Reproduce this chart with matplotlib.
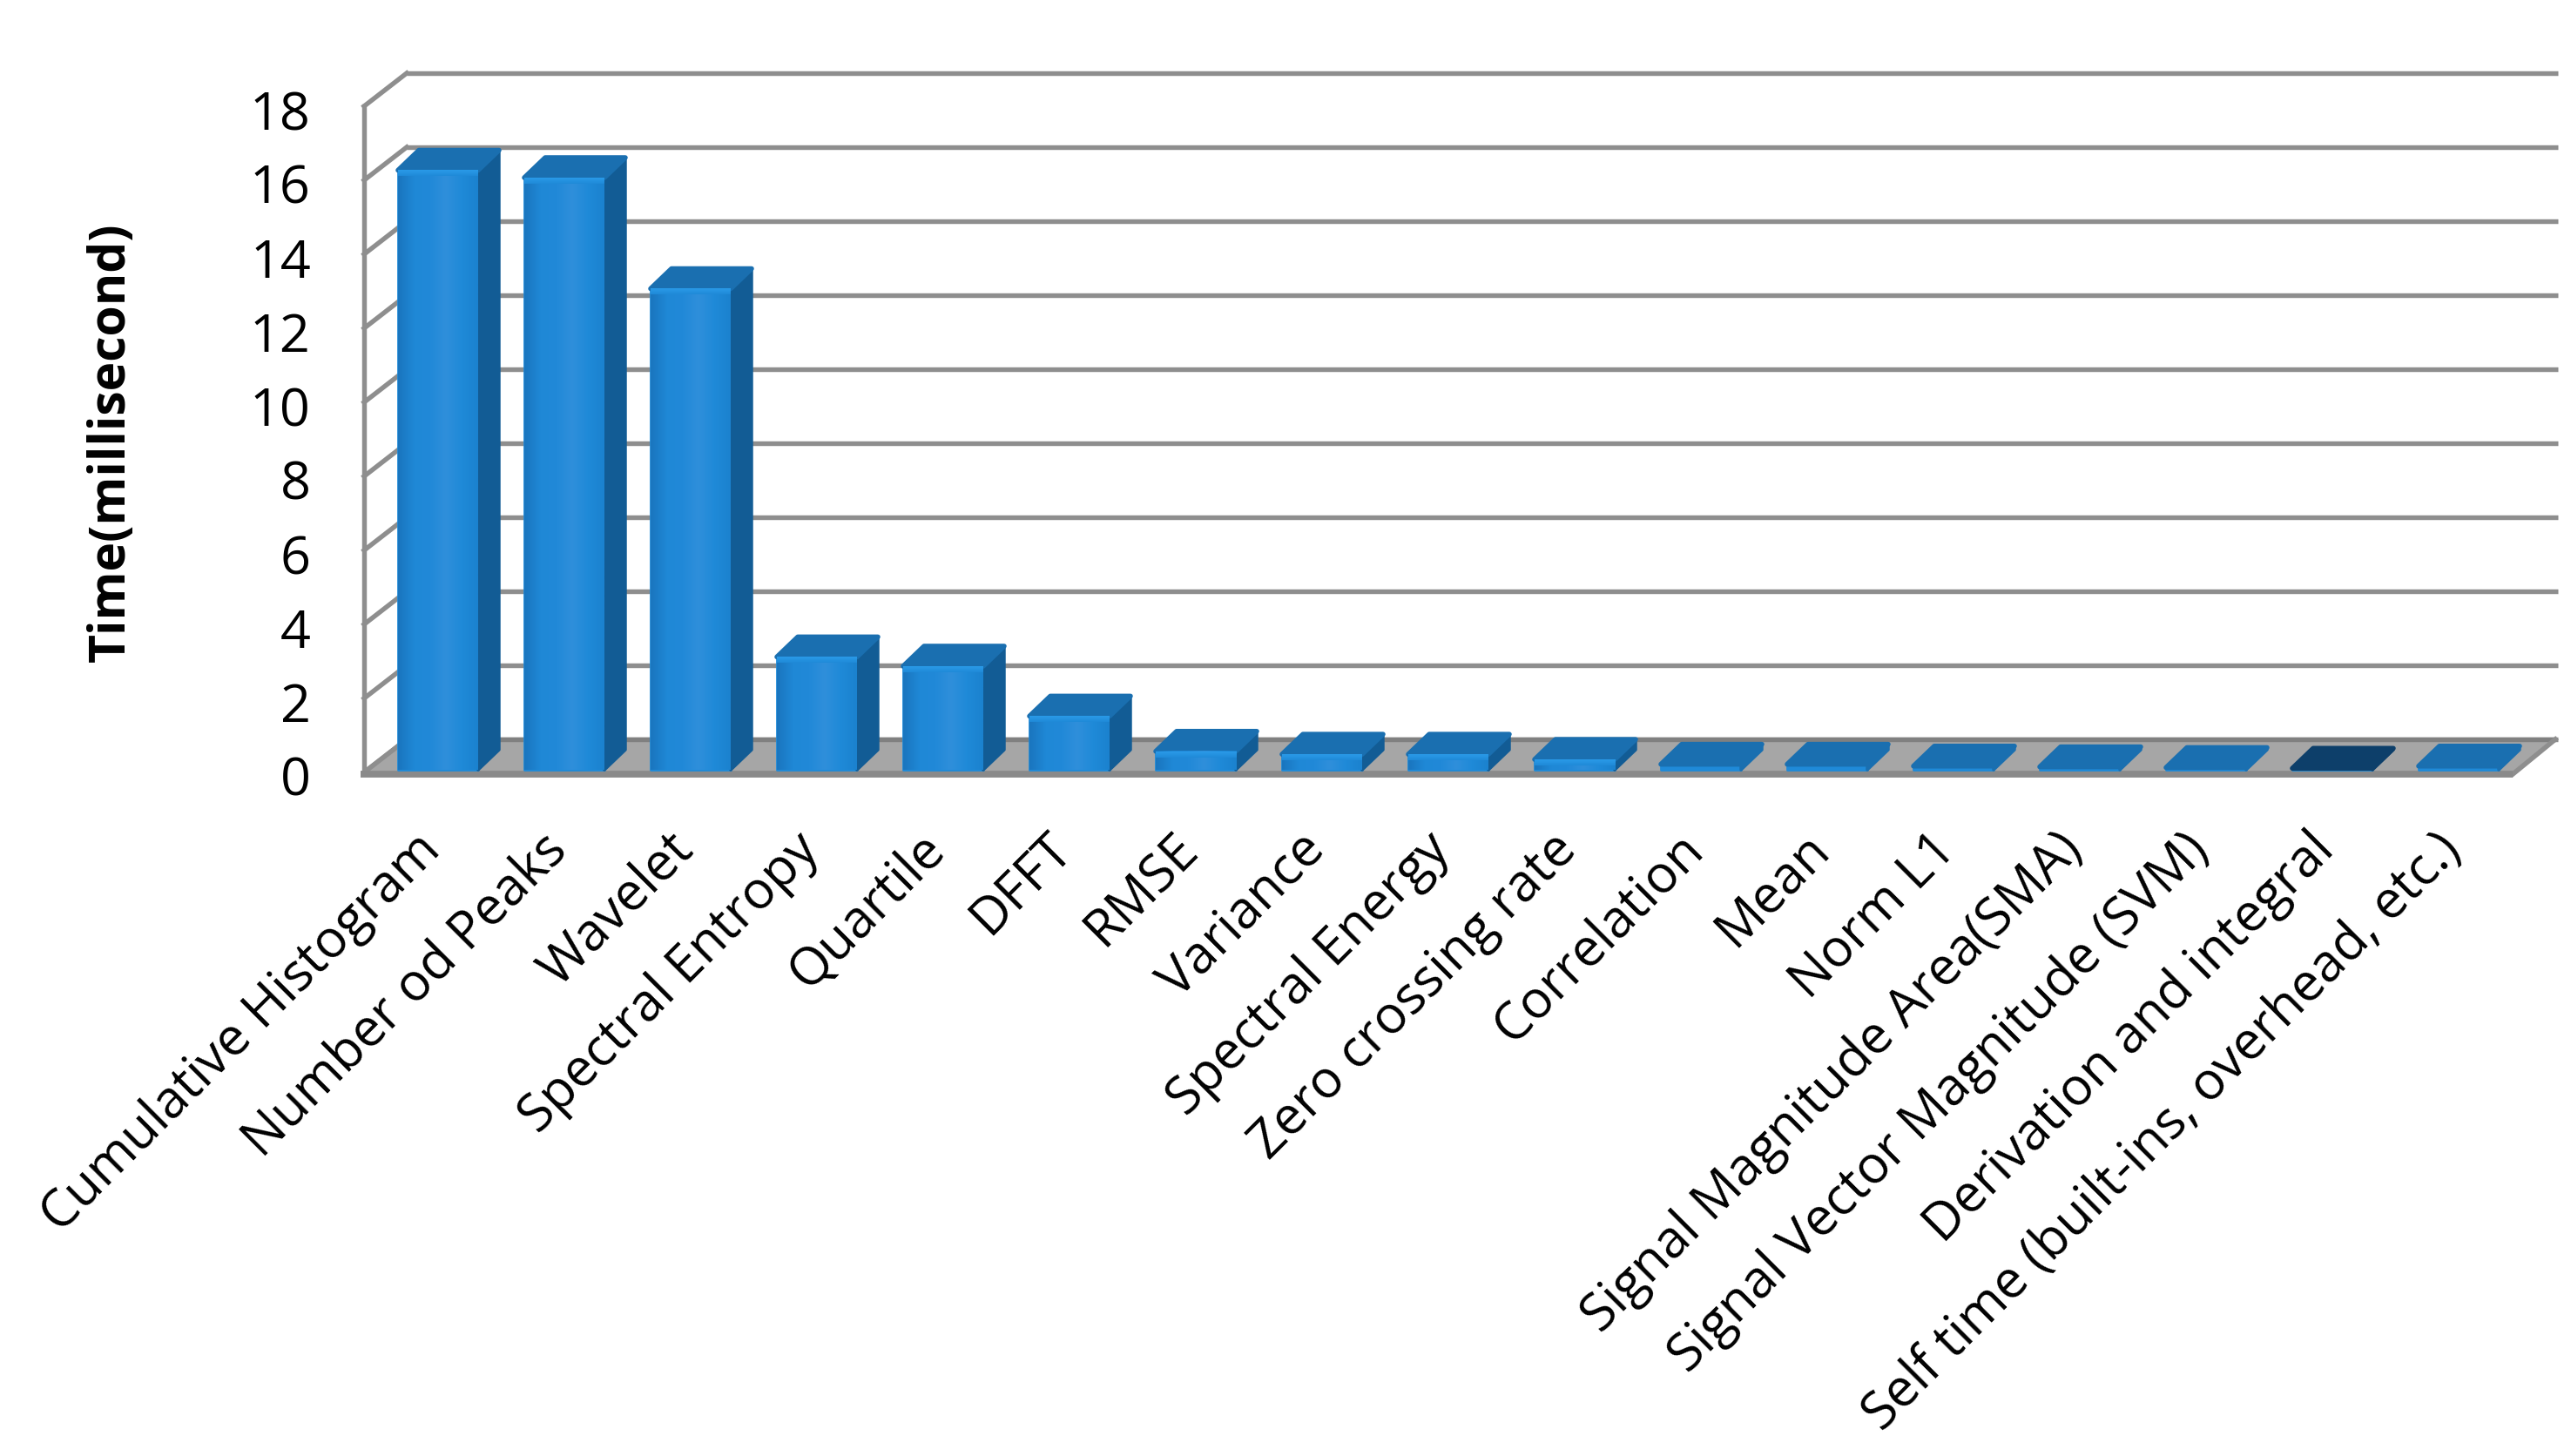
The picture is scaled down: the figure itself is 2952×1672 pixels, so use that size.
import numpy as np
import matplotlib
matplotlib.use("AGG")
import matplotlib.pyplot as plt
from matplotlib.colors import LinearSegmentedColormap
from matplotlib.patches import Polygon
from matplotlib.transforms import ScaledTranslation

categories = [
    "Cumulative Histogram", "Number od Peaks", "Wavelet", "Spectral Entropy",
    "Quartile", "DFFT", "RMSE", "Variance", "Spectral Energy",
    "Zero crossing rate", "Correlation", "Mean", "Norm L1",
    "Signal Magnitude Area(SMA)", "Signal Vector Magnitude (SVM)",
    "Derivation and integral", "Self time (built-ins, overhead, etc.)",
]
times = [16.2, 16.0, 13.0, 3.05, 2.8, 1.45, 0.5, 0.42, 0.42, 0.28,
         0.15, 0.15, 0.1, 0.08, 0.06, 0.04, 0.1]
y_ticks = [0, 2, 4, 6, 8, 10, 12, 14, 16, 18]

W, H = 2952, 1672
GRID = "#8e8e8e"
FLOOR = "#a6a6a6"
FRONT = "#1f8ad8"
SIDE = "#125c95"
TOP = "#1a6fb0"
DARK_TOP = "#0d3f6a"

# pixel scales of the front plane
PX_X = 145.0
PX_Y = 42.5
# depth of the chart box and of one bar, in data units
BOX_DX, BOX_DY = 49 / PX_X, 38 / PX_Y
BAR_DX, BAR_DY = 24 / PX_X, 23 / PX_Y
BAR_W = 92 / PX_X
BASE = 3 / PX_Y

plt.rcParams["font.family"] = ["Open Sans", "DejaVu Sans"]

fig = plt.figure(figsize=(W / 100, H / 100), dpi=100)
ax = fig.add_axes([418 / W, 1 - 887 / H, (2885 - 418) / W, (887 - 122) / H])
xmin, xmax = (418 - 503) / PX_X, (2885 - 503) / PX_X
ax.set_xlim(xmin, xmax)
ax.set_ylim(0, 18)
for s in ax.spines.values():
    s.set_visible(False)

grad = LinearSegmentedColormap.from_list(
    "face", ["#1a76bf", "#1f88d6", "#2189d8", "#2f8fdb", "#1f8ad8", "#1b82cf"])
bevel = LinearSegmentedColormap.from_list("bevel", [FRONT, "#2a9ae8"])
gx = np.linspace(0, 1, 64)[None, :]
gy = np.linspace(0, 1, 16)[:, None]

# back wall, side wall and front axis
for t in y_ticks:
    ax.plot([xmin + BOX_DX, xmax + BOX_DX + 3 / PX_X], [t + BOX_DY] * 2, color=GRID,
            lw=3.9, clip_on=False, zorder=1, solid_capstyle="butt")
    ax.plot([xmin, xmin + BOX_DX], [t, t + BOX_DY], color=GRID, lw=3.9,
            clip_on=False, zorder=1)
ax.plot([xmin, xmin], [0, 18], color=GRID, lw=3.9, clip_on=False, zorder=1)

# floor
ax.add_patch(Polygon([(xmin, 0), (xmax, 0), (xmax + BOX_DX, BOX_DY), (xmin + BOX_DX, BOX_DY)],
                     closed=True, fc=FLOOR, ec="none", clip_on=False, zorder=2))
ax.plot([xmin + BOX_DX, xmax + BOX_DX], [BOX_DY] * 2, color="#808080", lw=3.9,
        clip_on=False, zorder=2.1, solid_capstyle="butt")
ax.plot([xmax, xmax + BOX_DX], [-0.05, BOX_DY], color=GRID, lw=4,
        clip_on=False, zorder=2.1)
ax.plot([xmin, xmin + BOX_DX], [0, BOX_DY], color=GRID, lw=3.9, clip_on=False, zorder=2.1)
ax.plot([xmin - 4 / PX_X, xmax], [-0.05, -0.05], color="#8a8a8a", lw=5.6,
        clip_on=False, zorder=2.1, solid_capstyle="butt")

# bars, left to right
xpos = np.arange(len(categories))
bars = ax.bar(xpos, times, width=BAR_W, bottom=BASE, color=FRONT, zorder=3,
              clip_on=False, linewidth=2, edgecolor=FRONT, joinstyle="round")
for i, (b, v) in enumerate(zip(bars, times)):
    x0, x1 = b.get_x(), b.get_x() + b.get_width()
    y1 = BASE + v
    z = 3 + i * 0.01
    top_col = DARK_TOP if categories[i].startswith("Derivation") else TOP
    side_col = SIDE if v > 0.2 else top_col
    ax.add_patch(Polygon([(x1, BASE), (x1 + BAR_DX, BASE + BAR_DY), (x1 + BAR_DX, y1 + BAR_DY), (x1, y1)],
                         closed=True, fc=side_col, ec=side_col,
                         lw=2.5, joinstyle="round", clip_on=False, zorder=z))
    ax.add_patch(Polygon([(x0, y1), (x1, y1), (x1 + BAR_DX, y1 + BAR_DY), (x0 + BAR_DX, y1 + BAR_DY)],
                         closed=True, fc=top_col, ec=top_col, lw=4, joinstyle="round",
                         clip_on=False, zorder=z + 0.001))
    if v > 0.2:
        ax.imshow(gx, extent=(x0, x1, BASE, y1), aspect="auto", cmap=grad, zorder=z + 0.002,
                  clip_on=False, interpolation="bilinear")
        h = min(7 / PX_Y, v)
        ax.imshow(gy, extent=(x0, x1, y1 - h, y1), aspect="auto", cmap=bevel, zorder=z + 0.003,
                  origin="lower", clip_on=False, interpolation="bilinear")
ax.set_xlim(xmin, xmax)
ax.set_ylim(0, 18)

ax.set_yticks(y_ticks)
ax.tick_params(axis="y", length=0, pad=44, labelsize=44)
ax.set_xticks(xpos)
ax.set_xticklabels(categories, rotation=45, ha="right", rotation_mode="anchor", fontsize=43)
ax.tick_params(axis="x", length=0, pad=42)
shift = ScaledTranslation(-28 / 100, 0, fig.dpi_scale_trans)
for lab in ax.get_xticklabels():
    lab.set_transform(lab.get_transform() + shift)
down = ScaledTranslation(0, -4 / 100, fig.dpi_scale_trans)
for lab in ax.get_yticklabels():
    lab.set_transform(lab.get_transform() + down)

fig.text(128 / W, 1 - 508 / H, "Time(millisecond)", rotation=90, ha="center", va="center",
         fontsize=41, fontweight="bold")

fig.savefig("out.png", dpi=100)
